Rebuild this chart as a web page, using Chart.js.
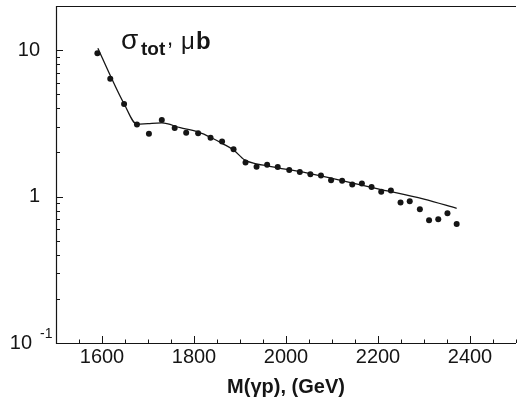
<!DOCTYPE html>
<html>
<head>
<meta charset="utf-8">
<script src="https://cdn.jsdelivr.net/npm/chart.js@4.4.1/dist/chart.umd.min.js"></script>
<style>
  html, body { margin: 0; padding: 0; background: #fff; }
  #wrap { width: 520px; height: 403px; position: relative; }
</style>
</head>
<body>
<div id="wrap"><canvas id="mainChart"></canvas></div>
<script>
// Dados medidos (pontos)
const massPoints = [1590, 1618, 1648, 1676, 1702, 1730, 1758, 1783, 1809, 1836, 1861, 1886,
    1912, 1936, 1959, 1982, 2007, 2030, 2053, 2076, 2098, 2122, 2144, 2165, 2186, 2207,
    2228, 2249, 2269, 2291, 2311, 2331, 2351, 2371];
const sigmaPoints = [9.5, 6.37, 4.28, 3.11, 2.68, 3.33, 2.94, 2.73, 2.71, 2.52, 2.38, 2.10,
    1.71, 1.60, 1.65, 1.59, 1.52, 1.47, 1.42, 1.39, 1.29, 1.28, 1.21, 1.23, 1.16, 1.08,
    1.10, 0.91, 0.93, 0.82, 0.69, 0.70, 0.77, 0.65];

// Curva ajustada
const fitMass = [1591, 1620, 1648, 1676, 1700, 1730, 1770, 1810, 1840, 1862, 1886, 1910,
    1935, 1960, 1982, 2025, 2100, 2200, 2300, 2371];
const fitSigma = [10.3, 6.5, 4.3, 3.12, 3.15, 3.18, 2.95, 2.75, 2.5, 2.3, 2.08, 1.78,
    1.67, 1.62, 1.57, 1.49, 1.33, 1.13, 0.96, 0.83];

// Eixos
const xTickValues = [1600, 1800, 2000, 2200, 2400];
const yTickValues = [0.1, 1, 10];
const yTickLabels = { 0.1: '', 1: '1', 10: '10' };

const FONT = "'Liberation Sans', Arial, sans-serif";
const INK = '#151515';

// Moldura, marcas internas e rótulos especiais
const framePlugin = {
    id: 'frame',
    afterDraw(chart) {
        const { ctx, chartArea: a, scales } = chart;
        const xs = scales.x, ys = scales.y;
        ctx.save();
        ctx.strokeStyle = INK;
        ctx.lineWidth = 1.2;
        ctx.beginPath();
        ctx.moveTo(a.right, a.top + 0.5);
        ctx.lineTo(a.left + 0.5, a.top + 0.5);
        ctx.lineTo(a.left + 0.5, a.bottom + 0.5);
        ctx.lineTo(a.right, a.bottom + 0.5);
        ctx.stroke();

        // marcas do eixo x (a cada 50)
        ctx.lineWidth = 1;
        ctx.beginPath();
        for (let v = xs.min; v <= xs.max; v += 50) {
            const px = Math.round(xs.getPixelForValue(v)) + 0.5;
            const len = v % 200 === 0 ? 7 : 3.5;
            ctx.moveTo(px, a.bottom);
            ctx.lineTo(px, a.bottom - len);
        }
        // marcas do eixo y (log)
        for (const dec of [0.1, 1, 10]) {
            for (let m = 1; m <= 9; m++) {
                const v = dec * m;
                if (v > ys.max) break;
                const py = Math.round(ys.getPixelForValue(v)) + 0.5;
                const len = m === 1 ? 7 : 4;
                ctx.moveTo(a.left, py);
                ctx.lineTo(a.left + len, py);
            }
        }
        ctx.stroke();

        // rótulo 10^-1
        const y01 = ys.getPixelForValue(0.1);
        ctx.fillStyle = INK;
        ctx.textBaseline = 'middle';
        ctx.textAlign = 'right';
        ctx.font = `20px ${FONT}`;
        ctx.fillText('10', 32, y01);
        ctx.textAlign = 'left';
        ctx.font = `14px ${FONT}`;
        ctx.fillText('-1', 40, y01 - 9);

        // título dentro do gráfico
        ctx.textBaseline = 'alphabetic';
        ctx.font = `28px ${FONT}`;
        ctx.fillText('σ', a.left + 65, 49);
        ctx.font = `bold 19px ${FONT}`;
        ctx.fillText('tot', a.left + 85, 55);
        ctx.font = `22px ${FONT}`;
        ctx.fillText(',', a.left + 111, 45);
        ctx.font = `24px ${FONT}`;
        ctx.fillText('μ', a.left + 125, 49);
        ctx.font = `bold 24px ${FONT}`;
        ctx.fillText('b', a.left + 140, 49);
        ctx.restore();
    }
};

function initChart() {
    const ctx = document.getElementById('mainChart').getContext('2d');
    Chart.defaults.font.family = FONT;
    Chart.defaults.color = INK;

    new Chart(ctx, {
        type: 'scatter',
        data: {
            datasets: [
                {
                    label: 'fit',
                    data: fitMass.map((m, i) => ({ x: m, y: fitSigma[i] })),
                    showLine: true,
                    borderColor: INK,
                    borderWidth: 1.3,
                    pointRadius: 0,
                    cubicInterpolationMode: 'monotone'
                },
                {
                    label: 'dados',
                    data: massPoints.map((m, i) => ({ x: m, y: sigmaPoints[i] })),
                    showLine: false,
                    pointRadius: 3,
                    pointBackgroundColor: INK,
                    pointBorderWidth: 0
                }
            ]
        },
        options: {
            responsive: true,
            maintainAspectRatio: false,
            animation: false,
            layout: { padding: { top: 6, right: 0, left: 0, bottom: 0 } },
            plugins: {
                legend: { display: false },
                tooltip: { enabled: false }
            },
            scales: {
                x: {
                    type: 'linear',
                    min: 1500,
                    max: 2500,
                    afterBuildTicks: (s) => { s.ticks = xTickValues.map(v => ({ value: v })); },
                    afterFit: (s) => { s.height = 60; s.paddingLeft = 0; s.paddingRight = 0; },
                    grid: { display: false, drawTicks: false },
                    border: { display: false },
                    ticks: {
                        font: { size: 20 },
                        padding: 2,
                        maxRotation: 0,
                        autoSkip: false,
                        callback: (v) => String(v)
                    },
                    title: {
                        display: true,
                        text: 'M(γp), (GeV)',
                        font: { size: 20, weight: 'bold' },
                        padding: { top: 0, bottom: 4 }
                    }
                },
                y: {
                    type: 'logarithmic',
                    min: 0.1,
                    max: 20,
                    afterBuildTicks: (s) => { s.ticks = yTickValues.map(v => ({ value: v, major: true })); },
                    afterFit: (s) => { s.width = 56; s.paddingTop = 0; s.paddingBottom = 0; },
                    grid: { display: false, drawTicks: false },
                    border: { display: false },
                    ticks: {
                        font: { size: 20 },
                        padding: 16,
                        autoSkip: false,
                        callback: (v) => yTickLabels[v] ?? ''
                    }
                }
            }
        },
        plugins: [framePlugin]
    });
}

window.addEventListener('load', initChart);
</script>
</body>
</html>
